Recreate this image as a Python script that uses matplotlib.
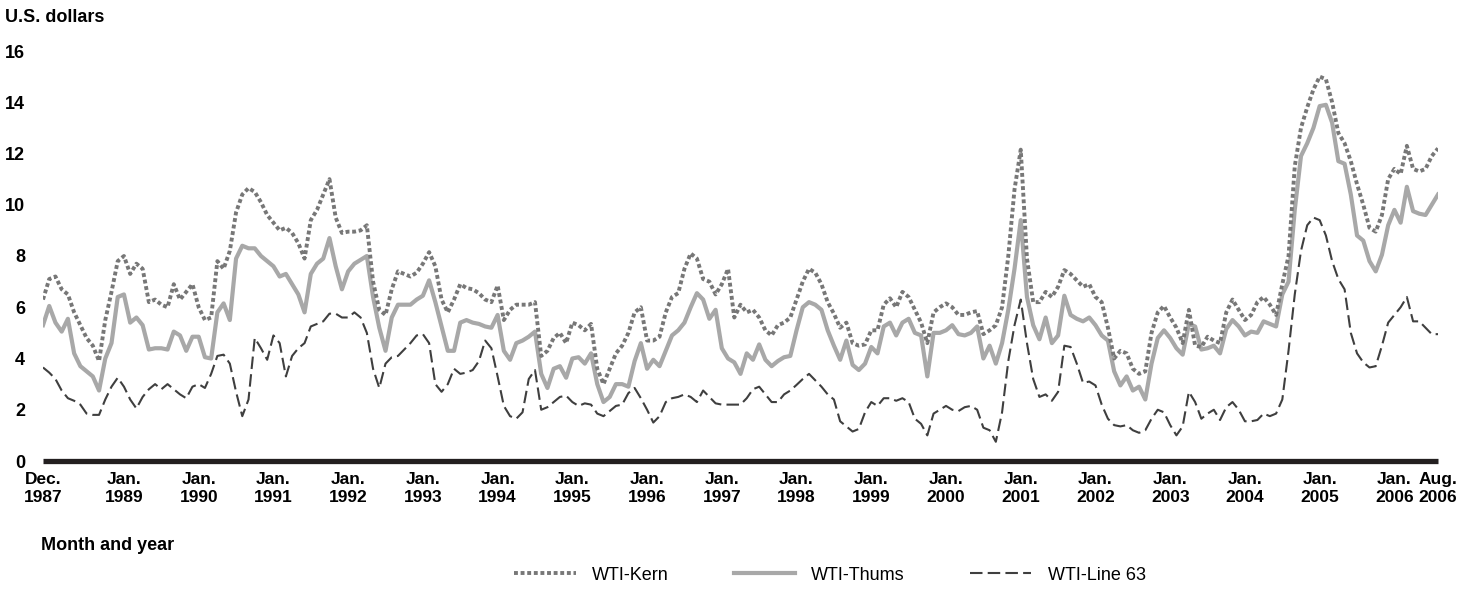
import numpy as np
import matplotlib
matplotlib.use("Agg")
import matplotlib.pyplot as plt
from matplotlib.lines import Line2D

plt.rcParams['font.family'] = ['Liberation Sans', 'DejaVu Sans']

# monthly prices, Dec. 1987 .. Aug. 2006 (U.S. dollars)
kern = [6.3,
        7.1, 7.2, 6.7, 6.5, 5.8, 5.3, 4.8, 4.5, 3.9, 5.5, 6.6, 7.8,           # 1988
        8.0, 7.3, 7.7, 7.5, 6.2, 6.3, 6.1, 6.0, 6.9, 6.3, 6.6, 6.9,           # 1989
        6.0, 5.5, 5.6, 7.8, 7.5, 8.2, 9.7, 10.4, 10.65, 10.5, 10.1, 9.6,      # 1990
        9.3, 9.0, 9.1, 8.9, 8.5, 7.9, 9.4, 9.8, 10.4, 11.0, 9.5, 8.9,         # 1991
        8.95, 8.95, 9.0, 9.2, 7.0, 5.9, 5.7, 6.7, 7.4, 7.3, 7.2, 7.35,        # 1992
        7.7, 8.15, 7.6, 6.3, 5.8, 6.3, 6.9, 6.75, 6.7, 6.55, 6.3, 6.2,        # 1993
        6.85, 5.5, 5.9, 6.1, 6.1, 6.1, 6.2, 4.1, 4.3, 4.8, 5.0, 4.6,          # 1994
        5.4, 5.3, 5.1, 5.35, 3.6, 3.0, 3.6, 4.2, 4.5, 5.0, 5.8, 6.0,          # 1995
        4.7, 4.7, 4.85, 5.8, 6.4, 6.55, 7.5, 8.1, 7.9, 7.1, 7.0, 6.5,         # 1996
        6.9, 7.5, 5.6, 6.1, 5.8, 5.9, 5.6, 5.1, 4.9, 5.3, 5.4, 5.6,           # 1997
        6.3, 7.0, 7.5, 7.35, 6.9, 6.2, 5.75, 5.2, 5.4, 4.6, 4.5, 4.55,        # 1998
        5.1, 5.1, 6.1, 6.35, 6.0, 6.6, 6.4, 5.9, 5.4, 4.6, 5.8, 6.0,          # 1999
        6.15, 6.0, 5.7, 5.7, 5.8, 5.85, 4.95, 5.1, 5.3, 6.0, 8.0, 10.6,       # 2000
        12.15, 7.9, 6.2, 6.2, 6.6, 6.4, 6.8, 7.45, 7.3, 7.05, 6.8, 6.9,       # 2001
        6.4, 6.2, 5.2, 4.0, 4.3, 4.2, 3.6, 3.4, 3.5, 5.0, 5.8, 6.05,          # 2002
        5.6, 5.2, 4.6, 5.9, 4.5, 4.45, 4.85, 4.7, 4.6, 5.8, 6.3, 5.9,         # 2003
        5.5, 5.7, 6.2, 6.4, 6.1, 5.7, 6.9, 8.0, 11.5, 13.0, 13.8, 14.5,       # 2004
        15.0, 14.9, 14.0, 12.8, 12.4, 11.7, 10.8, 10.0, 9.1, 8.95, 9.6, 11.0, # 2005
        11.4, 11.2, 12.3, 11.4, 11.3, 11.4, 11.9, 12.2]                       # 2006

thums = [5.3,
         6.05, 5.4, 5.05, 5.55, 4.2, 3.7, 3.5, 3.3, 2.75, 4.0, 4.6, 6.4,
         6.5, 5.4, 5.6, 5.3, 4.35, 4.4, 4.4, 4.35, 5.05, 4.9, 4.3, 4.85,
         4.85, 4.05, 4.0, 5.8, 6.15, 5.5, 7.9, 8.4, 8.3, 8.3, 8.0, 7.8,
         7.6, 7.2, 7.3, 6.9, 6.5, 5.8, 7.3, 7.7, 7.9, 8.7, 7.6, 6.7,
         7.4, 7.7, 7.85, 8.0, 6.4, 5.2, 4.3, 5.6, 6.1, 6.1, 6.1, 6.3,
         6.45, 7.05, 6.2, 5.25, 4.3, 4.3, 5.4, 5.5, 5.4, 5.35, 5.25, 5.2,
         5.7, 4.3, 3.95, 4.6, 4.7, 4.85, 5.05, 3.4, 2.85, 3.6, 3.7, 3.25,
         4.0, 4.05, 3.8, 4.2, 3.0, 2.3, 2.5, 3.0, 3.0, 2.9, 3.9, 4.6,
         3.6, 3.95, 3.7, 4.3, 4.9, 5.1, 5.4, 6.0, 6.55, 6.3, 5.55, 5.9,
         4.4, 4.0, 3.85, 3.4, 4.2, 3.95, 4.55, 3.95, 3.7, 3.9, 4.05, 4.1,
         5.1, 6.0, 6.2, 6.1, 5.9, 5.1, 4.5, 3.95, 4.7, 3.75, 3.55, 3.8,
         4.45, 4.2, 5.25, 5.4, 4.9, 5.4, 5.55, 5.0, 4.9, 3.3, 5.0, 5.0,
         5.1, 5.3, 4.95, 4.9, 5.0, 5.25, 4.0, 4.5, 3.8, 4.6, 5.9, 7.5,
         9.4, 6.4, 5.3, 4.75, 5.6, 4.6, 4.9, 6.45, 5.7, 5.55, 5.45, 5.6,
         5.3, 4.9, 4.7, 3.5, 2.95, 3.3, 2.75, 2.9, 2.4, 3.8, 4.8, 5.1,
         4.8, 4.4, 4.15, 5.35, 5.25, 4.35, 4.4, 4.5, 4.2, 5.15, 5.5, 5.25,
         4.9, 5.05, 5.0, 5.45, 5.35, 5.25, 6.5, 7.0, 9.8, 11.9, 12.4, 13.0,
         13.85, 13.9, 13.2, 11.7, 11.6, 10.4, 8.8, 8.6, 7.8, 7.4, 8.05, 9.2,
         9.8, 9.3, 10.7, 9.75, 9.65, 9.6, 10.0, 10.4]

line63 = [3.65,
          3.45, 3.2, 2.75, 2.45, 2.35, 2.2, 1.85, 1.8, 1.8, 2.4, 2.9, 3.25,
          2.9, 2.4, 2.05, 2.5, 2.8, 3.0, 2.8, 3.0, 2.8, 2.6, 2.45, 2.9,
          3.0, 2.85, 3.4, 4.1, 4.15, 3.8, 2.7, 1.75, 2.4, 4.8, 4.4, 3.95,
          4.9, 4.6, 3.3, 4.1, 4.4, 4.6, 5.25, 5.35, 5.45, 5.75, 5.75, 5.6,
          5.6, 5.8, 5.6, 5.0, 3.6, 2.85, 3.8, 4.05, 4.1, 4.35, 4.6, 4.9,
          4.95, 4.6, 3.0, 2.7, 3.0, 3.6, 3.4, 3.45, 3.55, 3.9, 4.7, 4.4,
          3.3, 2.15, 1.75, 1.65, 1.9, 3.2, 3.55, 2.0, 2.1, 2.3, 2.5, 2.55,
          2.3, 2.15, 2.25, 2.2, 1.85, 1.75, 1.95, 2.15, 2.2, 2.65, 2.85, 2.45,
          2.0, 1.5, 1.75, 2.3, 2.45, 2.5, 2.6, 2.5, 2.3, 2.75, 2.5, 2.25,
          2.2, 2.2, 2.2, 2.2, 2.45, 2.8, 2.9, 2.6, 2.3, 2.3, 2.6, 2.75,
          2.97, 3.2, 3.4, 3.15, 2.9, 2.6, 2.4, 1.55, 1.35, 1.15, 1.25, 1.9,
          2.3, 2.15, 2.45, 2.45, 2.35, 2.45, 2.3, 1.65, 1.45, 1.0, 1.85, 2.0,
          2.15, 2.0, 1.95, 2.1, 2.15, 2.0, 1.3, 1.2, 0.75, 1.9, 3.9, 5.3,
          6.3, 4.6, 3.2, 2.5, 2.6, 2.35, 2.7, 4.5, 4.45, 3.8, 3.05, 3.1,
          2.95, 2.2, 1.65, 1.4, 1.35, 1.4, 1.2, 1.1, 1.2, 1.65, 2.0, 1.9,
          1.4, 1.0, 1.35, 2.7, 2.3, 1.65, 1.85, 2.0, 1.6, 2.1, 2.3, 2.0,
          1.55, 1.55, 1.6, 1.85, 1.75, 1.85, 2.4, 4.3, 6.5, 8.2, 9.2, 9.5,
          9.4, 8.8, 7.8, 7.1, 6.7, 5.0, 4.2, 3.85, 3.65, 3.7, 4.5, 5.4,
          5.7, 6.0, 6.4, 5.45, 5.45, 5.2, 4.95, 4.95]

tick_months = [0] + [13 + 12 * i for i in range(18)] + [224]
tick_labels = (['Dec.\n1987'] + ['Jan.\n%d' % y for y in range(1989, 2007)]
               + ['Aug.\n2006'])

months = np.arange(len(kern))

kern_style = dict(color='#777777', lw=2.8, linestyle=(0, (1, 0.7)), dash_capstyle='butt')
thums_style = dict(color='#a8a8a8', lw=3.0)
l63_style = dict(color='#3f3f3f', lw=1.5, linestyle=(0, (6, 2.5)))

fig = plt.figure(figsize=(14.75, 5.91), dpi=100)
ax = fig.add_axes([43 / 1475, 130 / 591, 1395 / 1475, 410 / 591])

ax.plot(months, thums, zorder=2, **thums_style)
ax.plot(months, kern, zorder=3, **kern_style)
ax.plot(months, line63, zorder=4, **l63_style)

ax.set_xlim(0, 224)
ax.set_ylim(0, 16)
ax.set_yticks(range(0, 17, 2))
ax.set_xticks(tick_months)
ax.set_xticklabels(tick_labels)
ax.tick_params(axis='both', length=0, labelsize=13)
ax.tick_params(axis='x', labelsize=12.5, pad=8)
ax.tick_params(axis='y', pad=13)
for lab in ax.get_xticklabels() + ax.get_yticklabels():
    lab.set_fontweight('bold')

for s in ['top', 'right', 'left']:
    ax.spines[s].set_visible(False)
ax.spines['bottom'].set_linewidth(3.8)
ax.spines['bottom'].set_color('#231f20')
ax.spines['bottom'].set_capstyle('butt')

fig.text(5 / 1475, 1 - 17 / 591, 'U.S. dollars', fontsize=13, fontweight='bold',
         va='center', ha='left')
fig.text(41 / 1475, 1 - 545 / 591, 'Month and year', fontsize=13, fontweight='bold',
         va='center', ha='left')

handles = [Line2D([], [], **kern_style),
           Line2D([], [], **thums_style),
           Line2D([], [], **l63_style)]
fig.legend(handles, ['WTI-Kern', 'WTI-Thums', 'WTI-Line 63'], ncol=3,
           loc='center', bbox_to_anchor=(830 / 1475, 1 - 575 / 591), frameon=False,
           fontsize=13, handlelength=3.4, columnspacing=3.6, handletextpad=0.9)

fig.savefig('out.png', dpi=100)
